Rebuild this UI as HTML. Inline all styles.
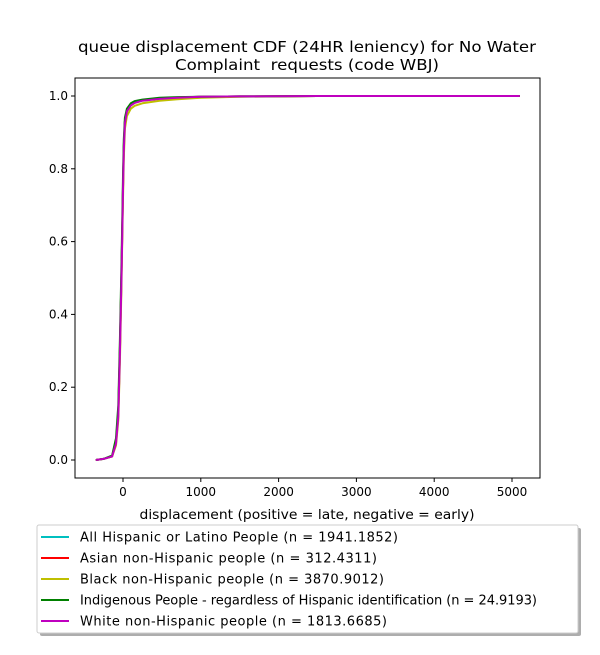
<!DOCTYPE html>
<html><head><meta charset="utf-8"><style>
body{margin:0;background:#fff;font-family:"Liberation Sans","DejaVu Sans",sans-serif;}
svg text{font-family:"DejaVu Sans","Liberation Sans",sans-serif;}
</style></head><body>
<svg id="chart" width="600" height="650" viewBox="0 0 600 650">
<text x="307" y="52" font-size="15" text-anchor="middle" textLength="458" lengthAdjust="spacingAndGlyphs">queue displacement CDF (24HR leniency) for No Water</text>
<text x="307" y="70" font-size="15" text-anchor="middle" textLength="264" lengthAdjust="spacingAndGlyphs">Complaint&#160; requests (code WBJ)</text>
<g id="plot"></g>
<rect x="75" y="78" width="465" height="400" fill="none" stroke="#000" stroke-width="1"/>
<text x="307" y="519" font-size="13" text-anchor="middle" textLength="335" lengthAdjust="spacingAndGlyphs">displacement (positive = late, negative = early)</text>
<g>
<rect x="40" y="528" width="541" height="108" rx="2" fill="#999" opacity="0.8"/>
<rect x="37" y="525" width="541" height="108" rx="2" fill="#fff" stroke="#ccc"/>
<g id="legend-items"></g>
</g>
</svg>
<script>
const categories=["All Hispanic or Latino People (n = 1941.1852)","Asian non-Hispanic people (n = 312.4311)","Black non-Hispanic people (n = 3870.9012)","Indigenous People - regardless of Hispanic identification (n = 24.9193)","White non-Hispanic people (n = 1813.6685)"];
const legendWidths=[318,297,304,457,307];
const colors=["#00bfbf","#ff0000","#bfbf00","#008000","#bf00bf"];
const xValues=[-350,-250,-140,-90,-60,-40,-20,-10,0,10,25,50,100,150,250,470,700,1000,1500,2500,5100];
const seriesHispanic=[0,0.003,0.01,0.05,0.13,0.3,0.5,0.62,0.75,0.86,0.93,0.96,0.975,0.982,0.988,0.993,0.996,0.998,0.999,1,1];
const seriesAsian=[0,0.003,0.01,0.05,0.13,0.3,0.5,0.62,0.75,0.86,0.93,0.96,0.975,0.982,0.988,0.993,0.996,0.998,0.999,1,1];
const seriesBlack=[0,0.003,0.01,0.04,0.11,0.27,0.47,0.6,0.72,0.83,0.91,0.945,0.965,0.973,0.98,0.987,0.991,0.995,0.998,1,1];
const seriesIndigenous=[0,0.003,0.012,0.06,0.15,0.33,0.53,0.65,0.78,0.88,0.94,0.965,0.98,0.986,0.99,0.995,0.997,0.998,0.999,1,1];
const seriesWhite=[0,0.003,0.01,0.045,0.12,0.29,0.49,0.61,0.74,0.85,0.925,0.958,0.974,0.981,0.987,0.992,0.995,0.998,0.999,1,1];
const allSeries=[seriesHispanic,seriesAsian,seriesBlack,seriesIndigenous,seriesWhite];
const xTicks=[0,1000,2000,3000,4000,5000];
const yTicks=[0,0.2,0.4,0.6,0.8,1.0];
const NS="http://www.w3.org/2000/svg";
const xs=d=>123+d*0.0778;
const ys=v=>460-v*364;
const plot=document.getElementById('plot');
function mk(t,a,p){const e=document.createElementNS(NS,t);for(const k in a)e.setAttribute(k,a[k]);p.appendChild(e);return e;}
xTicks.forEach(t=>{
 const l=mk('line',{x1:xs(t),x2:xs(t),y1:478,y2:482,stroke:'#000'},plot);
 
 
 const tx=mk('text',{x:xs(t),y:496,'font-size':12,'text-anchor':'middle'},plot);tx.textContent=t;
 
 
});
yTicks.forEach(t=>{
 const l=mk('line',{x1:71,x2:75,y1:ys(t),y2:ys(t),stroke:'#000'},plot);
 
 
 const tx=mk('text',{x:68,y:ys(t)+4,'font-size':12,'text-anchor':'end'},plot);tx.textContent=t.toFixed(1);
 
 
});
allSeries.forEach((s,i)=>{
 const d=s.map((v,j)=>(j?'L':'M')+xs(xValues[j]).toFixed(1)+','+ys(v).toFixed(1)).join('');
 const p=mk('path',{d:d,fill:'none',stroke:colors[i],'stroke-width':2,'stroke-linejoin':'round'},plot);
 
 
});
const lg=document.getElementById('legend-items');
categories.forEach((c,i)=>{
 const y=537+i*21;
 const l=mk('line',{x1:41,x2:69,y1:y,y2:y,stroke:colors[i],'stroke-width':2},lg);
 
 
 const t=mk('text',{x:80,y:y+4.5,'font-size':13,textLength:legendWidths[i],lengthAdjust:'spacing'},lg);t.textContent=c;
 
 
});
</script>
</body></html>
